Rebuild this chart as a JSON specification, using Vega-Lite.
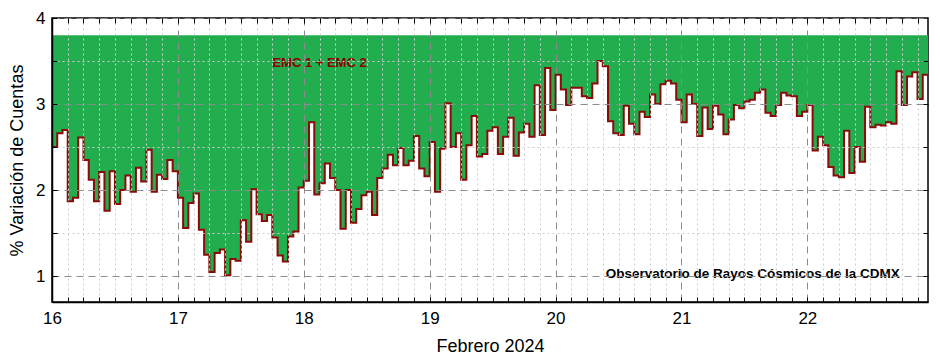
{
  "$schema": "https://vega.github.io/schema/vega-lite/v6.json",
  "width": 876,
  "height": 284,
  "autosize": {"type": "none"},
  "padding": {"left": 52, "top": 18, "right": 12, "bottom": 62},
  "background": "white",
  "config": {
    "view": {"stroke": "#000000", "strokeWidth": 1.5},
    "font": "Liberation Sans"
  },
  "data": {
    "values": [
      {"hora": 0, "v": 2.50}, {"hora": 1, "v": 2.66}, {"hora": 2, "v": 2.70}, {"hora": 3, "v": 1.87}, {"hora": 4, "v": 1.91}, {"hora": 5, "v": 2.61},
      {"hora": 6, "v": 2.35}, {"hora": 7, "v": 2.12}, {"hora": 8, "v": 1.87}, {"hora": 9, "v": 2.21}, {"hora": 10, "v": 1.76}, {"hora": 11, "v": 2.22},
      {"hora": 12, "v": 1.84}, {"hora": 13, "v": 2.00}, {"hora": 14, "v": 2.17}, {"hora": 15, "v": 1.98}, {"hora": 16, "v": 2.26}, {"hora": 17, "v": 2.10},
      {"hora": 18, "v": 2.47}, {"hora": 19, "v": 1.98}, {"hora": 20, "v": 2.18}, {"hora": 21, "v": 2.13}, {"hora": 22, "v": 2.35}, {"hora": 23, "v": 2.22},
      {"hora": 24, "v": 1.91}, {"hora": 25, "v": 1.56}, {"hora": 26, "v": 1.85}, {"hora": 27, "v": 1.96}, {"hora": 28, "v": 1.54}, {"hora": 29, "v": 1.25},
      {"hora": 30, "v": 1.05}, {"hora": 31, "v": 1.27}, {"hora": 32, "v": 1.31}, {"hora": 33, "v": 1.01}, {"hora": 34, "v": 1.20}, {"hora": 35, "v": 1.18},
      {"hora": 36, "v": 1.65}, {"hora": 37, "v": 1.40}, {"hora": 38, "v": 2.01}, {"hora": 39, "v": 1.72}, {"hora": 40, "v": 1.64}, {"hora": 41, "v": 1.71},
      {"hora": 42, "v": 1.45}, {"hora": 43, "v": 1.24}, {"hora": 44, "v": 1.17}, {"hora": 45, "v": 1.46}, {"hora": 46, "v": 1.52}, {"hora": 47, "v": 2.03},
      {"hora": 48, "v": 2.11}, {"hora": 49, "v": 2.79}, {"hora": 50, "v": 1.95}, {"hora": 51, "v": 2.08}, {"hora": 52, "v": 2.31}, {"hora": 53, "v": 2.14},
      {"hora": 54, "v": 2.00}, {"hora": 55, "v": 1.55}, {"hora": 56, "v": 2.00}, {"hora": 57, "v": 1.62}, {"hora": 58, "v": 1.78}, {"hora": 59, "v": 1.94},
      {"hora": 60, "v": 1.98}, {"hora": 61, "v": 1.71}, {"hora": 62, "v": 2.14}, {"hora": 63, "v": 2.25}, {"hora": 64, "v": 2.41}, {"hora": 65, "v": 2.29},
      {"hora": 66, "v": 2.49}, {"hora": 67, "v": 2.29}, {"hora": 68, "v": 2.34}, {"hora": 69, "v": 2.63}, {"hora": 70, "v": 2.25}, {"hora": 71, "v": 2.16},
      {"hora": 72, "v": 2.56}, {"hora": 73, "v": 1.98}, {"hora": 74, "v": 2.48}, {"hora": 75, "v": 3.01}, {"hora": 76, "v": 2.50}, {"hora": 77, "v": 2.66},
      {"hora": 78, "v": 2.12}, {"hora": 79, "v": 2.52}, {"hora": 80, "v": 2.86}, {"hora": 81, "v": 2.39}, {"hora": 82, "v": 2.42}, {"hora": 83, "v": 2.69},
      {"hora": 84, "v": 2.73}, {"hora": 85, "v": 2.42}, {"hora": 86, "v": 2.62}, {"hora": 87, "v": 2.84}, {"hora": 88, "v": 2.40}, {"hora": 89, "v": 2.67},
      {"hora": 90, "v": 2.77}, {"hora": 91, "v": 2.62}, {"hora": 92, "v": 3.22}, {"hora": 93, "v": 2.64}, {"hora": 94, "v": 3.42}, {"hora": 95, "v": 2.93},
      {"hora": 96, "v": 3.34}, {"hora": 97, "v": 3.17}, {"hora": 98, "v": 2.99}, {"hora": 99, "v": 3.19}, {"hora": 100, "v": 3.19}, {"hora": 101, "v": 3.09},
      {"hora": 102, "v": 3.07}, {"hora": 103, "v": 3.24}, {"hora": 104, "v": 3.50}, {"hora": 105, "v": 3.44}, {"hora": 106, "v": 2.80}, {"hora": 107, "v": 2.66},
      {"hora": 108, "v": 2.64}, {"hora": 109, "v": 2.98}, {"hora": 110, "v": 2.77}, {"hora": 111, "v": 2.65}, {"hora": 112, "v": 2.91}, {"hora": 113, "v": 2.85},
      {"hora": 114, "v": 3.11}, {"hora": 115, "v": 3.00}, {"hora": 116, "v": 3.23}, {"hora": 117, "v": 3.27}, {"hora": 118, "v": 3.24}, {"hora": 119, "v": 3.05},
      {"hora": 120, "v": 2.79}, {"hora": 121, "v": 3.11}, {"hora": 122, "v": 3.00}, {"hora": 123, "v": 2.63}, {"hora": 124, "v": 2.96}, {"hora": 125, "v": 2.71},
      {"hora": 126, "v": 2.98}, {"hora": 127, "v": 2.88}, {"hora": 128, "v": 2.65}, {"hora": 129, "v": 2.82}, {"hora": 130, "v": 2.99}, {"hora": 131, "v": 2.95},
      {"hora": 132, "v": 3.03}, {"hora": 133, "v": 3.05}, {"hora": 134, "v": 3.13}, {"hora": 135, "v": 3.17}, {"hora": 136, "v": 2.90}, {"hora": 137, "v": 2.86},
      {"hora": 138, "v": 2.99}, {"hora": 139, "v": 3.13}, {"hora": 140, "v": 3.10}, {"hora": 141, "v": 3.09}, {"hora": 142, "v": 2.86}, {"hora": 143, "v": 2.91},
      {"hora": 144, "v": 2.99}, {"hora": 145, "v": 2.46}, {"hora": 146, "v": 2.62}, {"hora": 147, "v": 2.52}, {"hora": 148, "v": 2.27}, {"hora": 149, "v": 2.17},
      {"hora": 150, "v": 2.15}, {"hora": 151, "v": 2.69}, {"hora": 152, "v": 2.20}, {"hora": 153, "v": 2.50}, {"hora": 154, "v": 2.33}, {"hora": 155, "v": 2.97},
      {"hora": 156, "v": 2.73}, {"hora": 157, "v": 2.76}, {"hora": 158, "v": 2.75}, {"hora": 159, "v": 2.79}, {"hora": 160, "v": 2.77}, {"hora": 161, "v": 3.38},
      {"hora": 162, "v": 2.99}, {"hora": 163, "v": 3.32}, {"hora": 164, "v": 3.37}, {"hora": 165, "v": 3.06}, {"hora": 166, "v": 3.34}, {"hora": 167, "v": 3.34}
    ]
  },
  "encoding": {
    "x": {
      "field": "hora",
      "type": "quantitative",
      "scale": {"domain": [0, 167], "nice": false, "zero": false},
      "axis": {
        "title": "Febrero 2024",
        "titleFont": "Liberation Sans",
        "titleFontSize": 18,
        "titleFontWeight": "normal",
        "titleColor": "#000000",
        "titlePadding": 11,
        "values": [0, 3, 6, 9, 12, 15, 18, 21, 24, 27, 30, 33, 36, 39, 42, 45, 48, 51, 54, 57, 60, 63, 66, 69, 72, 75, 78, 81, 84, 87, 90, 93, 96, 99, 102, 105, 108, 111, 114, 117, 120, 123, 126, 129, 132, 135, 138, 141, 144, 147, 150, 153, 156, 159, 162, 165],
        "labelExpr": "datum.value % 24 == 0 ? format(16 + datum.value / 24, 'd') : ''",
        "labelFont": "Liberation Sans",
        "labelFontSize": 17,
        "labelColor": "#000000",
        "labelFlush": false,
        "labelOverlap": false,
        "labelPadding": 13,
        "ticks": true,
        "tickSize": -5,
        "tickColor": "#000000",
        "tickWidth": 1,
        "domainColor": "#000000",
        "domainWidth": 1.5,
        "grid": true,
        "gridColor": {"condition": {"test": "datum.value % 24 == 0", "value": "#8c8c8c"}, "value": "#cfcfcf"},
        "gridDash": {"condition": {"test": "datum.value % 24 == 0", "value": [7, 5]}, "value": [2, 3]},
        "gridWidth": 1,
        "zindex": 1
      }
    },
    "y": {
      "field": "v",
      "type": "quantitative",
      "scale": {"domain": [0.7, 4], "nice": false, "zero": false},
      "axis": {
        "title": "% Variación de Cuentas",
        "titleFont": "Liberation Sans",
        "titleFontSize": 18,
        "titleFontWeight": "normal",
        "titleColor": "#000000",
        "titlePadding": 9,
        "values": [1, 1.5, 2, 2.5, 3, 3.5, 4],
        "labelExpr": "datum.value % 1 == 0 ? format(datum.value, 'd') : ''",
        "labelFont": "Liberation Sans",
        "labelFontSize": 17,
        "labelColor": "#000000",
        "labelOverlap": false,
        "labelPadding": 12,
        "ticks": true,
        "tickSize": -5,
        "tickColor": "#000000",
        "tickWidth": 1,
        "domainColor": "#000000",
        "domainWidth": 1.5,
        "grid": true,
        "gridColor": {"condition": {"test": "datum.value % 1 == 0", "value": "#8c8c8c"}, "value": "#cfcfcf"},
        "gridDash": {"condition": {"test": "datum.value % 1 == 0", "value": [7, 5]}, "value": [2, 3]},
        "gridWidth": 1,
        "zindex": 1
      }
    }
  },
  "layer": [
    {
      "mark": {"type": "area", "interpolate": "step-after", "color": "#22ad4f", "opacity": 1},
      "encoding": {"y2": {"datum": 3.8}}
    },
    {
      "mark": {"type": "line", "interpolate": "step-after", "color": "#8b0a0a", "strokeWidth": 2},
      "encoding": {
        "x": {
          "field": "hora",
          "type": "quantitative",
          "axis": {
            "orient": "top",
            "title": null,
            "labels": false,
            "grid": false,
            "domain": false,
            "ticks": true,
            "tickSize": -5,
            "tickColor": "#000000",
            "tickWidth": 1,
            "values": [0, 3, 6, 9, 12, 15, 18, 21, 24, 27, 30, 33, 36, 39, 42, 45, 48, 51, 54, 57, 60, 63, 66, 69, 72, 75, 78, 81, 84, 87, 90, 93, 96, 99, 102, 105, 108, 111, 114, 117, 120, 123, 126, 129, 132, 135, 138, 141, 144, 147, 150, 153, 156, 159, 162, 165],
            "zindex": 1
          }
        },
        "y": {
          "field": "v",
          "type": "quantitative",
          "axis": {
            "orient": "right",
            "title": null,
            "labels": false,
            "grid": false,
            "domain": false,
            "ticks": true,
            "tickSize": -5,
            "tickColor": "#000000",
            "tickWidth": 1,
            "values": [1, 1.5, 2, 2.5, 3, 3.5],
            "zindex": 1
          }
        }
      }
    },
    {
      "transform": [{"filter": "datum.hora == 51"}],
      "mark": {"type": "text", "font": "Liberation Sans", "fontWeight": "bold", "fontSize": 13, "fill": "#8b0000", "align": "center", "baseline": "middle"},
      "encoding": {
        "x": {"field": "hora", "type": "quantitative", "axis": null},
        "y": {"datum": 3.48, "type": "quantitative", "axis": null},
        "text": {"value": "EMC 1 + EMC 2"}
      }
    },
    {
      "transform": [{"filter": "datum.hora == 133"}],
      "mark": {"type": "text", "font": "Liberation Sans", "fontWeight": "bold", "fontSize": 13.5, "fill": "#000000", "align": "center", "baseline": "middle"},
      "encoding": {
        "x": {"datum": 133.6, "type": "quantitative", "axis": null},
        "y": {"datum": 1.03, "type": "quantitative", "axis": null},
        "text": {"value": "Observatorio de Rayos Cósmicos de la CDMX"}
      }
    }
  ],
  "resolve": {"axis": {"x": "independent", "y": "independent"}}
}
